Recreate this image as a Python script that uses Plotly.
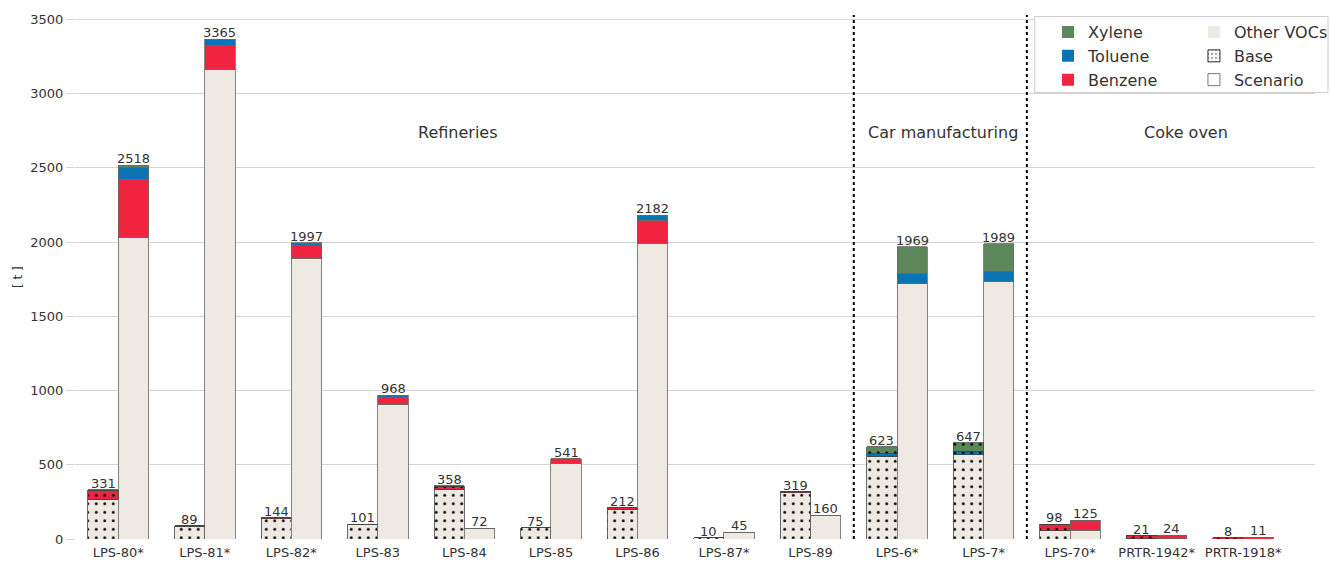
import plotly.graph_objects as go

categories = ["LPS-80*", "LPS-81*", "LPS-82*", "LPS-83", "LPS-84", "LPS-85", "LPS-86",
              "LPS-87*", "LPS-89", "LPS-6*", "LPS-7*", "LPS-70*", "PRTR-1942*", "PRTR-1918*"]

base_other = [268, 87, 138, 99, 333, 75, 197, 10, 312, 553, 569, 54, 1, 0]
base_benzene = [56, 1, 5, 1, 20, 0, 13, 0, 6, 0, 0, 44, 20, 8]
base_toluene = [5, 1, 1, 1, 3, 0, 2, 0, 1, 21, 22, 0, 0, 0]
base_xylene = [2, 0, 0, 0, 2, 0, 0, 0, 0, 49, 56, 0, 0, 0]

scen_other = [2032, 3163, 1890, 908, 72, 510, 1994, 45, 160, 1720, 1735, 59, 1, 0]
scen_benzene = [390, 164, 86, 45, 0, 27, 152, 0, 0, 0, 0, 62, 23, 11]
scen_toluene = [82, 36, 18, 14, 0, 4, 34, 0, 0, 66, 69, 4, 0, 0]
scen_xylene = [14, 2, 3, 1, 0, 0, 2, 0, 0, 183, 185, 0, 0, 0]

section_labels = ["Refineries", "Car manufacturing", "Coke oven"]
section_label_pos = [3.93, 9.53, 12.34]
section_dividers = [8.5, 10.5]

FONT = "DejaVu Sans"
TXT = "#333333"
colors = {"Other VOCs": "#efe9e3", "Benzene": "#f0243e", "Toluene": "#0a74b5", "Xylene": "#5b875b"}
BW = 0.35

idx = list(range(len(categories)))
x_base = [i - BW / 2 for i in idx]
x_scen = [i + BW / 2 for i in idx]

fig = go.Figure()

dot_pattern = dict(shape=".", fgcolor="black", fgopacity=1, size=8.5, solidity=0.09, fillmode="overlay")

for name, bvals, svals in [("Other VOCs", base_other, scen_other),
                           ("Benzene", base_benzene, scen_benzene),
                           ("Toluene", base_toluene, scen_toluene),
                           ("Xylene", base_xylene, scen_xylene)]:
    fig.add_trace(go.Bar(x=x_base, y=bvals, width=BW, showlegend=False, name=name + " base",
                         marker=dict(color=colors[name], line=dict(color="#444", width=0.8),
                                     pattern=dot_pattern), hoverinfo="skip"))
    fig.add_trace(go.Bar(x=x_scen, y=svals, width=BW, showlegend=False, name=name + " scenario",
                         marker=dict(color=colors[name], line=dict(color="#666", width=0.8)),
                         hoverinfo="skip"))

# legend entries
for name in ["Xylene", "Toluene", "Benzene"]:
    fig.add_trace(go.Bar(x=[None], y=[None], name=name, legend="legend",
                         marker=dict(color=colors[name], line=dict(width=0))))
fig.add_trace(go.Bar(x=[None], y=[None], name="Other VOCs", legend="legend2",
                     marker=dict(color=colors["Other VOCs"], line=dict(width=0))))
fig.add_trace(go.Bar(x=[None], y=[None], name="Base", legend="legend2",
                     marker=dict(color="white", line=dict(color="black", width=0.8),
                                 pattern=dict(shape=".", fgcolor="black", size=5, solidity=0.2))))
fig.add_trace(go.Bar(x=[None], y=[None], name="Scenario", legend="legend2",
                     marker=dict(color="white", line=dict(color="#555", width=0.8))))

base_tot = [a + b + c + d for a, b, c, d in zip(base_other, base_benzene, base_toluene, base_xylene)]
scen_tot = [a + b + c + d for a, b, c, d in zip(scen_other, scen_benzene, scen_toluene, scen_xylene)]

annotations = []
for xs, tots in [(x_base, base_tot), (x_scen, scen_tot)]:
    for xv, t in zip(xs, tots):
        annotations.append(dict(x=xv, y=t, text=str(t), showarrow=False, yanchor="bottom",
                                yshift=-3, font=dict(family=FONT, size=13, color=TXT)))
for lab, xv in zip(section_labels, section_label_pos):
    annotations.append(dict(x=xv, y=2740, text=lab, showarrow=False,
                            font=dict(family=FONT, size=16, color=TXT)))
annotations.append(dict(xref="paper", yref="paper", x=-0.046, y=0.5, xanchor="center", yanchor="middle",
                        text="[ t ]", textangle=-90, showarrow=False,
                        font=dict(family=FONT, size=12, color=TXT)))

shapes = []
for xv in section_dividers:
    shapes.append(dict(type="line", xref="x", yref="paper", x0=xv, x1=xv, y0=0, y1=1,
                       line=dict(color="black", width=2, dash="dot"), layer="above"))
shapes.append(dict(type="rect", xref="paper", yref="paper", x0=0.774, x1=1.0105, y0=0.852, y1=0.997,
                   fillcolor="white", line=dict(color="#cccccc", width=1), layer="above"))

fig.update_layout(
    width=1330, height=561,
    margin=dict(l=75, r=15, t=15, b=22, autoexpand=False),
    barmode="stack",
    paper_bgcolor="white", plot_bgcolor="white",
    font=dict(family=FONT, size=13, color=TXT),
    annotations=annotations, shapes=shapes,
    legend=dict(x=0.788, y=0.973, xref="container", yref="container", xanchor="left", yanchor="top",
                bgcolor="rgba(0,0,0,0)", font=dict(family=FONT, size=16, color=TXT),
                traceorder="normal", itemwidth=30),
    legend2=dict(x=0.8977, y=0.973, xref="container", yref="container", xanchor="left", yanchor="top",
                 bgcolor="rgba(0,0,0,0)", font=dict(family=FONT, size=16, color=TXT),
                 traceorder="normal", itemwidth=30),
    xaxis=dict(range=[-0.5, 13.83], tickmode="array", tickvals=idx, ticktext=categories,
               showgrid=False, zeroline=False, showline=False, ticks="outside", ticklen=1,
               tickcolor="rgba(0,0,0,0)",
               tickfont=dict(family=FONT, size=13, color=TXT)),
    yaxis=dict(range=[0, 3530], tickvals=[0, 500, 1000, 1500, 2000, 2500, 3000, 3500],
               showgrid=True, gridcolor="#d5d5d5", gridwidth=1, zeroline=False, showline=False,
               ticks="outside", ticklen=8, tickcolor="#d5d5d5",
               tickfont=dict(family=FONT, size=13, color=TXT)),
)

fig.write_html("out.html", config={"displayModeBar": False},
               post_script="document.body.style.margin='0';document.body.style.overflow='hidden';")
